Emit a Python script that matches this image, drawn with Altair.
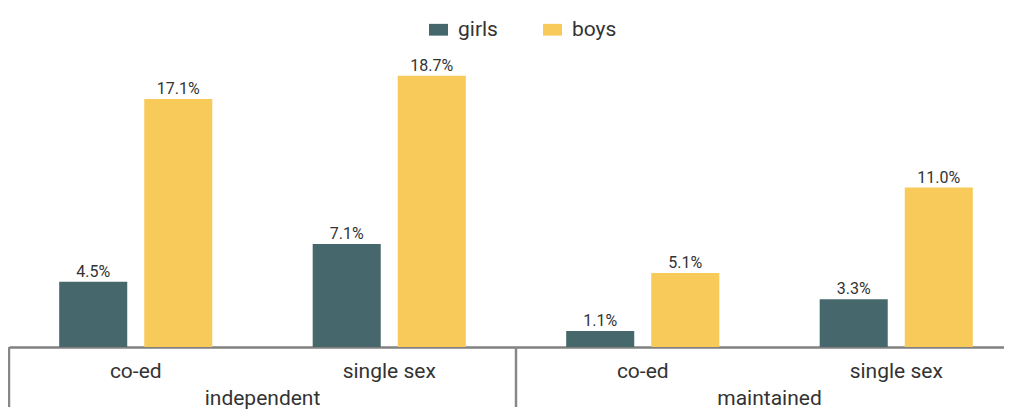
import altair as alt
import pandas as pd

types = ["independent", "independent", "maintained", "maintained"]
schools = ["co-ed", "single sex", "co-ed", "single sex"]
girls = [4.5, 7.1, 1.1, 3.3]
boys = [17.1, 18.7, 5.1, 11.0]
genders = ["girls", "boys"]
colors = ["#46686C", "#F7CA59"]

cats = [f"{t}|{s}" for t, s in zip(types, schools)]
rows = []
for c, g, b in zip(cats, girls, boys):
    rows.append({"cat": c, "gender": "girls", "value": g})
    rows.append({"cat": c, "gender": "boys", "value": b})
df = pd.DataFrame(rows)

group_first = pd.DataFrame({"cat": [cats[0], cats[2]]})
group_mid = pd.DataFrame({"cat": [cats[1], cats[3]], "type": [types[0], types[2]]})

H = 290
FONT = "Roboto"

xscale = alt.Scale(domain=cats, paddingInner=0, paddingOuter=0, range=[0, 1014])
x_enc = alt.X("cat:N", scale=xscale, sort=cats,
              axis=alt.Axis(title=None, ticks=False, tickSize=0,
                            labelExpr="split(datum.label, '|')[1]",
                            labelFont=FONT, labelFontSize=21, labelColor="#333333",
                            labelPadding=13, labelAngle=0,
                            domainColor="#808080", domainWidth=2.5))
xoff = alt.XOffset("gender:N", sort=genders,
                   scale=alt.Scale(paddingInner=0.2, paddingOuter=0.59))
y_enc = alt.Y("value:Q", scale=alt.Scale(domain=[0, 20], nice=False), axis=None)

bars = alt.Chart(df).mark_bar().encode(
    x=x_enc, xOffset=xoff, y=y_enc,
    color=alt.Color("gender:N", sort=genders,
                    scale=alt.Scale(domain=genders, range=colors),
                    legend=alt.Legend(title=None, orient="none", direction="horizontal",
                                      legendX=419, legendY=-38,
                                      symbolType="M-1,-0.62H1V0.62H-1Z", symbolSize=361,
                                      symbolStrokeWidth=0, symbolOpacity=1,
                                      labelFont=FONT, labelFontSize=21, labelColor="#333333",
                                      labelOffset=9, columnPadding=44)),
)

labels = alt.Chart(df).transform_calculate(
    label="format(datum.value, '.1f') + '%'"
).mark_text(font=FONT, fontSize=16, color="#333333", baseline="alphabetic", dy=-5).encode(
    x=alt.X("cat:N", sort=cats), xOffset=xoff, y=y_enc, text="label:N"
)

seps = alt.Chart(group_first).mark_rule(color="#888888", strokeWidth=2.5).encode(
    x=alt.X("cat:N", sort=cats, bandPosition=0),
    y=alt.value(H), y2=alt.value(H + 60),
)

glabels = alt.Chart(group_mid).mark_text(font=FONT, fontSize=21, color="#333333",
                                          baseline="alphabetic").encode(
    x=alt.X("cat:N", sort=cats, bandPosition=0),
    y=alt.value(H + 58), text="type:N",
)

chart = alt.layer(bars, labels, seps, glabels).properties(
    width=995, height=H,
    autosize=alt.AutoSizeParams(type="none"),
    padding={"left": 1, "top": 49, "right": 0, "bottom": 65},
).configure_view(stroke=None)

chart.save("out.html", embed_options={"renderer": "svg", "actions": False})
